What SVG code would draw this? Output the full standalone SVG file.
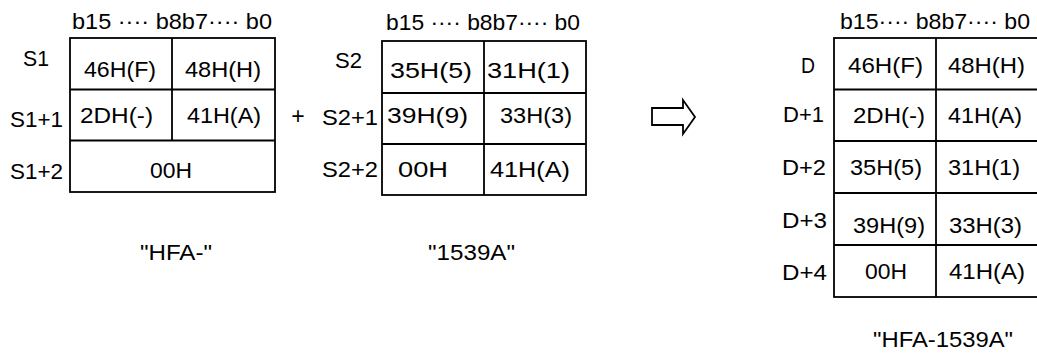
<svg xmlns="http://www.w3.org/2000/svg" width="1037" height="353" viewBox="0 0 1037 353">
<style>
text{font-family:"Liberation Sans",Arial,sans-serif;font-size:22px;fill:#000}
.ln{stroke:#000;stroke-width:1.8;fill:none}
</style>
<rect width="1037" height="353" fill="#fff"/>
<g id="s1">
<text x="72" y="29" textLength="200" lengthAdjust="spacingAndGlyphs">b15 ···· b8b7···· b0</text>
<rect class="ln" x="70" y="38" width="205" height="154"/>
<path class="ln" d="M70 89.5H275M70 140.5H275M172 38V140.5"/>
<text x="23" y="66" textLength="26" lengthAdjust="spacingAndGlyphs">S1</text>
<text x="10" y="127" textLength="53" lengthAdjust="spacingAndGlyphs">S1+1</text>
<text x="10" y="179" textLength="53" lengthAdjust="spacingAndGlyphs">S1+2</text>
<text x="84" y="77" textLength="72" lengthAdjust="spacingAndGlyphs">46H(F)</text>
<text x="185" y="77" textLength="76" lengthAdjust="spacingAndGlyphs">48H(H)</text>
<text x="80" y="123" textLength="73" lengthAdjust="spacingAndGlyphs">2DH(-)</text>
<text x="187" y="123" textLength="74" lengthAdjust="spacingAndGlyphs">41H(A)</text>
<text x="150" y="178" textLength="42" lengthAdjust="spacingAndGlyphs">00H</text>
<text x="140" y="260" textLength="72" lengthAdjust="spacingAndGlyphs">"HFA-"</text>
</g>
<g id="plus">
<text x="298" y="124" text-anchor="middle" style="font-size:23px">+</text>
</g>
<g id="s2">
<text x="386" y="30" textLength="194" lengthAdjust="spacingAndGlyphs">b15 ···· b8b7···· b0</text>
<rect class="ln" x="382" y="41" width="204" height="154"/>
<path class="ln" d="M382 93H586M382 144H586M484 41V195"/>
<text x="335" y="68" textLength="27" lengthAdjust="spacingAndGlyphs">S2</text>
<text x="322" y="125" textLength="56" lengthAdjust="spacingAndGlyphs">S2+1</text>
<text x="322" y="177" textLength="56" lengthAdjust="spacingAndGlyphs">S2+2</text>
<text x="390" y="78" textLength="82" lengthAdjust="spacingAndGlyphs" fill="#222">35H(5)</text>
<text x="487" y="78" textLength="83" lengthAdjust="spacingAndGlyphs">31H(1)</text>
<text x="387" y="123" textLength="81" lengthAdjust="spacingAndGlyphs" fill="#222">39H(9)</text>
<text x="500" y="123" textLength="72" lengthAdjust="spacingAndGlyphs">33H(3)</text>
<text x="398" y="177" textLength="50" lengthAdjust="spacingAndGlyphs">00H</text>
<text x="490" y="177" textLength="80" lengthAdjust="spacingAndGlyphs">41H(A)</text>
<text x="428" y="260" textLength="87" lengthAdjust="spacingAndGlyphs">"1539A"</text>
</g>
<g id="connectors">
<polygon class="ln" stroke-width="1.6" points="652,108 683,108 683,100 695,117 683,134 683,125 652,125"/>
</g>
<g id="d">
<text x="840" y="29" textLength="190" lengthAdjust="spacingAndGlyphs">b15···· b8b7···· b0</text>
<rect class="ln" x="834" y="38" width="204" height="259"/>
<path class="ln" d="M834 89.5H1038M834 141H1038M834 193H1038M834 245H1038M936 38V297"/>
<text x="801" y="73" textLength="14" lengthAdjust="spacingAndGlyphs">D</text>
<text x="783" y="122" textLength="41" lengthAdjust="spacingAndGlyphs">D+1</text>
<text x="782" y="175" textLength="44" lengthAdjust="spacingAndGlyphs">D+2</text>
<text x="782" y="228" textLength="45" lengthAdjust="spacingAndGlyphs">D+3</text>
<text x="782" y="280" textLength="45" lengthAdjust="spacingAndGlyphs">D+4</text>
<text x="848" y="73" textLength="75" lengthAdjust="spacingAndGlyphs">46H(F)</text>
<text x="948" y="73" textLength="77" lengthAdjust="spacingAndGlyphs">48H(H)</text>
<text x="853" y="123" textLength="72" lengthAdjust="spacingAndGlyphs">2DH(-)</text>
<text x="948" y="123" textLength="74" lengthAdjust="spacingAndGlyphs">41H(A)</text>
<text x="850" y="175" textLength="72" lengthAdjust="spacingAndGlyphs">35H(5)</text>
<text x="948" y="175" textLength="72" lengthAdjust="spacingAndGlyphs">31H(1)</text>
<text x="853" y="233" textLength="72" lengthAdjust="spacingAndGlyphs">39H(9)</text>
<text x="949" y="233" textLength="73" lengthAdjust="spacingAndGlyphs">33H(3)</text>
<text x="865" y="279" textLength="42" lengthAdjust="spacingAndGlyphs">00H</text>
<text x="949" y="279" textLength="76" lengthAdjust="spacingAndGlyphs">41H(A)</text>
<text x="873" y="347" textLength="140" lengthAdjust="spacingAndGlyphs">"HFA-1539A"</text>
</g>
</svg>
